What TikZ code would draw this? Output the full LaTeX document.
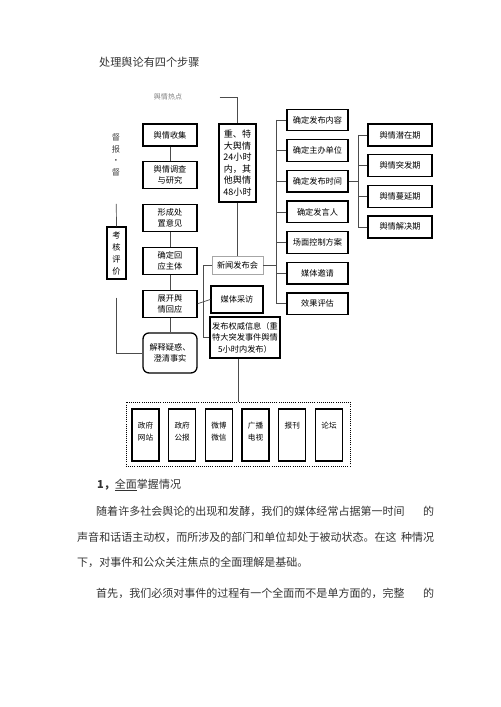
\documentclass[tikz,border=0pt]{standalone}
\usepackage{fontspec}
\setmainfont{Noto Sans CJK SC}
\usetikzlibrary{positioning}
\newcommand{\boxfont}{\fontsize{7pt}{9.4pt}\selectfont}
\newcommand{\bodyfont}{\fontsize{9.4pt}{11pt}\selectfont}

\begin{document}
\begin{tikzpicture}[
          x=0.03cm,y=-0.03cm,
          node distance=0.435cm,
          lbox/.style={draw,line width=1.1pt,minimum width=1.62cm,minimum height=0.81cm,
            align=center,inner sep=1pt,font=\boxfont},
          rbox/.style={lbox,minimum width=1.83cm,minimum height=0.65cm},
          qbox/.style={lbox,minimum width=1.92cm,minimum height=0.66cm},
          mbox/.style={draw,line width=1.1pt,minimum width=0.81cm,minimum height=1.56cm},
          mtxt/.style={align=center,inner sep=0pt,font=\fontsize{6.5pt}{10.2pt}\selectfont},
          body/.style={anchor=west,inner sep=0pt,text=black!80,font=\bodyfont},
          ln/.style={draw=black!70,line width=0.6pt}
            ]
            \useasboundingbox (0,0) rectangle (500,707);
            \node[body] (tt) at (99,62) {\fontsize{9.5pt}{11pt}\selectfont 处理舆论有四个步骤};
            % left column
            \node[lbox,minimum height=0.66cm] (sj) at (170,135) {舆情收集};
            \node[lbox,below=of sj] (dc) {舆情调查\\与研究};
            \node[lbox,below=of dc] (xc) {形成处\\置意见};
            \node[lbox,below=of xc] (hy) {确定回\\应主体};
            \node[lbox,below=of hy] (zk) {展开舆\\情回应};
            \node[lbox,below=of zk,minimum height=1.2cm,rounded corners=0.18cm] (js) {解释疑惑、\\澄清事实};
            \node[align=center,text=black!75,font=\fontsize{7pt}{10pt}\selectfont] (db) at (116,155) {督\\报\\·\\督};
            \node[lbox,minimum width=0.57cm,minimum height=1.56cm,inner sep=0pt,
              font=\fontsize{7pt}{10.2pt}\selectfont] (kh) at (116.5,253) {考\\核\\评\\价};
            \path (sj) edge[ln] (dc)
            (xc) edge[ln] (hy)
            (hy) edge[ln] (zk)
            (zk) edge[ln] (js);
            \draw[ln,shorten <=0.7cm] (db.south) -- (kh.north);
            \draw[ln,shorten <=0.54cm] (kh.south) |- (js.west);
            % middle
            \node[text=gray,font=\fontsize{6pt}{7pt}\selectfont] (rd) at (168,97) {舆情热点};
            \node[lbox,minimum width=1.11cm,minimum height=2.34cm,
              font=\fontsize{7.7pt}{9.9pt}\selectfont] (zd) at (237.5,163) {重、特\\大舆情\\24小时\\内，其\\他舆情\\48小时};
            \node[lbox,draw=black!35,line width=0.5pt,minimum width=1.53cm,minimum height=0.54cm] (xw) at (237.5,265) {新闻发布会};
            \node[lbox,minimum width=1.56cm] (mc) at (237,299.5) {媒体采访};
            \node[lbox,minimum width=2.1cm,minimum height=1.23cm,
              font=\fontsize{7pt}{9.9pt}\selectfont] (fb) at (245,337.5) {发布权威信息（重\\特大突发事件舆情\\5小时内发布）};
            \draw[ln,shorten <=1cm] (rd.east) -| (zd.north);
            \draw[ln] (zd) -- (xw);
            \coordinate (kz) at (203,0);
            \draw[ln] (zk.east) -- (mc.west);
            \draw[ln] (xw.west) -| (kz |- fb.west) -- (fb.west);
            % right column
            \coordinate (b1) at (276,0);
            \node[rbox] (nr) at (317.5,120) {确定发布内容};
            \node[rbox,below=0.23cm of nr] (zb) {确定主办单位};
            \node[rbox,below=0.23cm of zb] (fs) {确定发布时间};
            \node[rbox,below=0.23cm of fs] (fy) {确定发言人};
            \node[rbox,below=0.23cm of fy] (cm) {场面控制方案};
            \node[rbox,below=0.23cm of cm] (my) {媒体邀请};
            \node[rbox,below=0.23cm of my] (pg) {效果评估};
            \draw[ln] (xw.east) -- (xw.east -| b1);
            \draw[ln] (nr.west -| b1) -- (pg.west -| b1);
            \foreach \n in {nr,zb,fs,fy,cm,my,pg}
              \draw[ln] (\n.west -| b1) -- (\n.west);
            % stages
            \coordinate (b2) at (358,0);
            \node[qbox] (qz) at (400,135) {舆情潜在期};
            \node[qbox,below=0.22cm of qz] (tf) {舆情突发期};
            \node[qbox,below=0.22cm of tf] (ml) {舆情蔓延期};
            \node[qbox,below=0.22cm of ml] (jj) {舆情解决期};
            \draw[ln] (fs.east) -- (fs.east -| b2);
            \draw[ln] (qz.west -| b2) -- (jj.west -| b2);
            \foreach \n in {qz,tf,ml,jj}
              \draw[ln] (\n.west -| b2) -- (\n.west);
            % channels
            \node[draw,densely dotted,line width=0.8pt,minimum width=6.72cm,minimum height=1.92cm] (ct) at (238,434) {};
            \draw[ln] (ct.north) -- (ct.north |- fb.south);
            \foreach \nm/\txt [count=\i from 0] in {zw/{政府\\网站},gb/{政府\\公报},wb/{微博\\微信},gd/{广播\\电视},bk/{报刊},lt/{论坛}} {
              \node[mbox] (\nm) at (145.5+36.7*\i,435) {};
              \node[mtxt,anchor=north] (\nm t) at ([yshift=-0.4cm]\nm.north) {\txt};
            }
            % text below
            \node[body] (h1) at (97,485) {\textbf{1，}\underline{全面}掌握情况};
            \node[body] (p1) at (96,511) {\makebox[10.14cm][l]{随着许多社会舆论的出现和发酵，我们的媒体经常占据第一时间\hfill 的}};
            \node[body] (p2) at (77,537) {\makebox[10.71cm][l]{声音和话语主动权，而所涉及的部门和单位却处于被动状态。在这\hfill 种情况}};
            \node[body] (p3) at (77,562) {下，对事件和公众关注焦点的全面理解是基础。};
            \node[body] (p4) at (96,593) {\makebox[10.14cm][l]{首先，我们必须对事件的过程有一个全面而不是单方面的，完整\hfill 的}};
            \end{tikzpicture}
\end{document}
